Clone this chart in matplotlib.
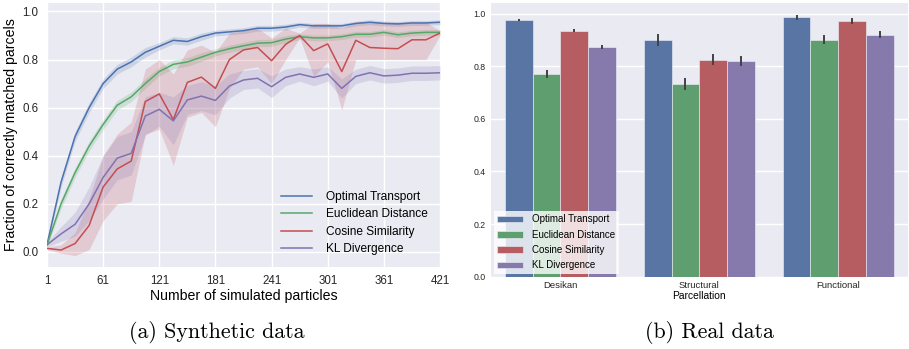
import numpy as np
import matplotlib
matplotlib.use("Agg")
import matplotlib.pyplot as plt

# ---- data ----
methods = ['Optimal Transport', 'Euclidean Distance', 'Cosine Similarity', 'KL Divergence']

particles = [1, 16, 31, 46, 61, 76, 91, 106, 121, 136, 151, 166, 181, 196, 211,
             226, 241, 256, 271, 286, 301, 316, 331, 346, 361, 376, 391, 406, 421]

ot_mean = [0.03, 0.29, 0.48, 0.60, 0.70, 0.76, 0.79, 0.83, 0.855, 0.88, 0.875, 0.895, 0.91, 0.915, 0.92,
           0.93, 0.93, 0.935, 0.945, 0.94, 0.94, 0.94, 0.95, 0.955, 0.95, 0.948, 0.952, 0.952, 0.955]
ot_err = [0.01, 0.02, 0.02, 0.02, 0.02, 0.02, 0.02, 0.02, 0.015, 0.015, 0.015, 0.015, 0.012, 0.012, 0.012,
          0.012, 0.012, 0.012, 0.01, 0.01, 0.01, 0.01, 0.01, 0.01, 0.01, 0.01, 0.01, 0.01, 0.01]

ed_mean = [0.03, 0.20, 0.33, 0.44, 0.53, 0.61, 0.645, 0.70, 0.75, 0.78, 0.79, 0.81, 0.83, 0.845, 0.857,
           0.868, 0.87, 0.885, 0.895, 0.89, 0.89, 0.895, 0.905, 0.905, 0.913, 0.903, 0.91, 0.913, 0.913]
ed_err = [0.01, 0.02, 0.02, 0.02, 0.02, 0.02, 0.02, 0.02, 0.018, 0.018, 0.018, 0.018, 0.015, 0.015, 0.015,
          0.015, 0.015, 0.015, 0.012, 0.012, 0.012, 0.012, 0.012, 0.012, 0.012, 0.012, 0.012, 0.012, 0.012]

cs_mean = [0.015, 0.008, 0.035, 0.11, 0.27, 0.345, 0.378, 0.625, 0.657, 0.55, 0.705, 0.727, 0.68, 0.80, 0.84,
           0.85, 0.795, 0.863, 0.90, 0.837, 0.865, 0.75, 0.88, 0.85, 0.847, 0.845, 0.882, 0.882, 0.91]
cs_lo = [0.010, -0.005, -0.015, 0.01, 0.13, 0.20, 0.21, 0.49, 0.51, 0.36, 0.56, 0.58, 0.52, 0.68, 0.76,
         0.77, 0.70, 0.80, 0.89, 0.73, 0.79, 0.59, 0.80, 0.80, 0.80, 0.80, 0.80, 0.80, 0.90]
cs_hi = [0.020, 0.03, 0.08, 0.22, 0.40, 0.49, 0.54, 0.76, 0.80, 0.74, 0.84, 0.86, 0.83, 0.91, 0.92,
         0.93, 0.89, 0.93, 0.91, 0.95, 0.95, 0.93, 0.955, 0.955, 0.955, 0.955, 0.955, 0.955, 0.92]

kl_mean = [0.03, 0.075, 0.115, 0.20, 0.31, 0.39, 0.41, 0.565, 0.593, 0.545, 0.632, 0.648, 0.63, 0.69, 0.715,
           0.722, 0.687, 0.726, 0.74, 0.726, 0.74, 0.68, 0.73, 0.745, 0.732, 0.735, 0.743, 0.743, 0.745]
kl_err = [0.01, 0.03, 0.05, 0.07, 0.09, 0.09, 0.09, 0.08, 0.07, 0.10, 0.06, 0.06, 0.06, 0.05, 0.04,
          0.04, 0.045, 0.035, 0.03, 0.035, 0.03, 0.04, 0.03, 0.03, 0.03, 0.03, 0.03, 0.03, 0.03]

parcellations = ['Desikan', 'Structural', 'Functional']
bar_means = {
    'Optimal Transport': [0.975, 0.900, 0.985],
    'Euclidean Distance': [0.770, 0.732, 0.900],
    'Cosine Similarity': [0.935, 0.825, 0.972],
    'KL Divergence': [0.873, 0.820, 0.920],
}
bar_errs = {
    'Optimal Transport': [0.005, 0.022, 0.010],
    'Euclidean Distance': [0.014, 0.022, 0.017],
    'Cosine Similarity': [0.005, 0.022, 0.010],
    'KL Divergence': [0.006, 0.020, 0.013],
}

line_colors = ['#4C72B0', '#55A868', '#C44E52', '#8172B2']
bar_colors = ['#5975A4', '#5F9E6E', '#B55D60', '#857AAB']

plt.rcParams['font.family'] = ['Liberation Sans', 'DejaVu Sans']
bg = '#EAEAF2'

fig = plt.figure(figsize=(9.09, 3.49), dpi=100)

# ---- (a) synthetic ----
ax1 = fig.add_axes([47/909, 1-267/349, 393/909, 264/349])
ax1.set_facecolor(bg)
x = np.array(particles)
series = [(ot_mean, np.array(ot_mean) - ot_err, np.array(ot_mean) + ot_err),
          (ed_mean, np.array(ed_mean) - ed_err, np.array(ed_mean) + ed_err),
          (cs_mean, cs_lo, cs_hi),
          (kl_mean, np.array(kl_mean) - kl_err, np.array(kl_mean) + kl_err)]
for (m, lo, hi), c, name in zip(series, line_colors, methods):
    ax1.fill_between(x, lo, hi, color=c, alpha=0.2, lw=0)
    ax1.plot(x, m, color=c, lw=1.1, label=name)
ax1.set_xlim(1, 421)
ax1.set_ylim(-0.0625, 1.035)
ax1.set_xticks([1, 61, 121, 181, 241, 301, 361, 421])
ax1.set_yticks([0.0, 0.2, 0.4, 0.6, 0.8, 1.0])
ax1.grid(True, color='white', lw=1.0)
ax1.set_axisbelow(True)
for s in ax1.spines.values():
    s.set_visible(False)
ax1.tick_params(length=0, labelsize=8.3, pad=6, colors='#262626')
ax1.set_xlabel('Number of simulated particles', fontsize=10.2, labelpad=1)
ax1.set_ylabel('Fraction of correctly matched parcels', fontsize=10.2, labelpad=3)
ax1.legend(loc='lower right', frameon=False, fontsize=8.6, handlelength=2.6,
           handletextpad=1.2, labelspacing=0.45, borderaxespad=0.6)

# ---- (b) real ----
ax2 = fig.add_axes([491/909, 1-276.7/349, 416.7/909, 273.7/349])
ax2.set_facecolor(bg)
xpos = np.arange(len(parcellations))
w = 0.2
for i, (name, c) in enumerate(zip(methods, bar_colors)):
    pos = xpos - 0.3 + i * w
    ax2.bar(pos, bar_means[name], width=w, color=c, edgecolor='#F0F0F8', lw=0.4, label=name)
    ax2.errorbar(pos, bar_means[name], yerr=bar_errs[name], fmt='none', ecolor='#424242', elinewidth=1.4)
ax2.set_xlim(-0.5, 2.5)
ax2.set_ylim(0, 1.04)
ax2.set_xticks(xpos)
ax2.set_xticklabels(parcellations)
ax2.set_yticks([0.0, 0.2, 0.4, 0.6, 0.8, 1.0])
ax2.yaxis.grid(True, color='white', lw=1.0)
ax2.set_axisbelow(True)
for s in ax2.spines.values():
    s.set_visible(False)
ax2.tick_params(axis='y', length=0, labelsize=6.3, pad=4, colors='#262626')
ax2.tick_params(axis='x', length=0, labelsize=6.8, pad=3, colors='#262626')
ax2.set_xlabel('Parcellation', fontsize=7.4, labelpad=1)
ax2.legend(loc='lower left', fontsize=7.0, frameon=True, framealpha=0.8, facecolor='white',
           edgecolor='none', fancybox=False, handlelength=2.6, borderaxespad=0.3,
           labelspacing=0.55, handletextpad=1.0, borderpad=0.35)

# captions
fig.text(217/909, 1-333/349, '(a) Synthetic data', fontfamily='cmr10', fontsize=15.8,
         ha='center', va='center')
fig.text(709/909, 1-333/349, '(b) Real data', fontfamily='cmr10', fontsize=15.8,
         ha='center', va='center')

fig.savefig('out.png', dpi=100)
